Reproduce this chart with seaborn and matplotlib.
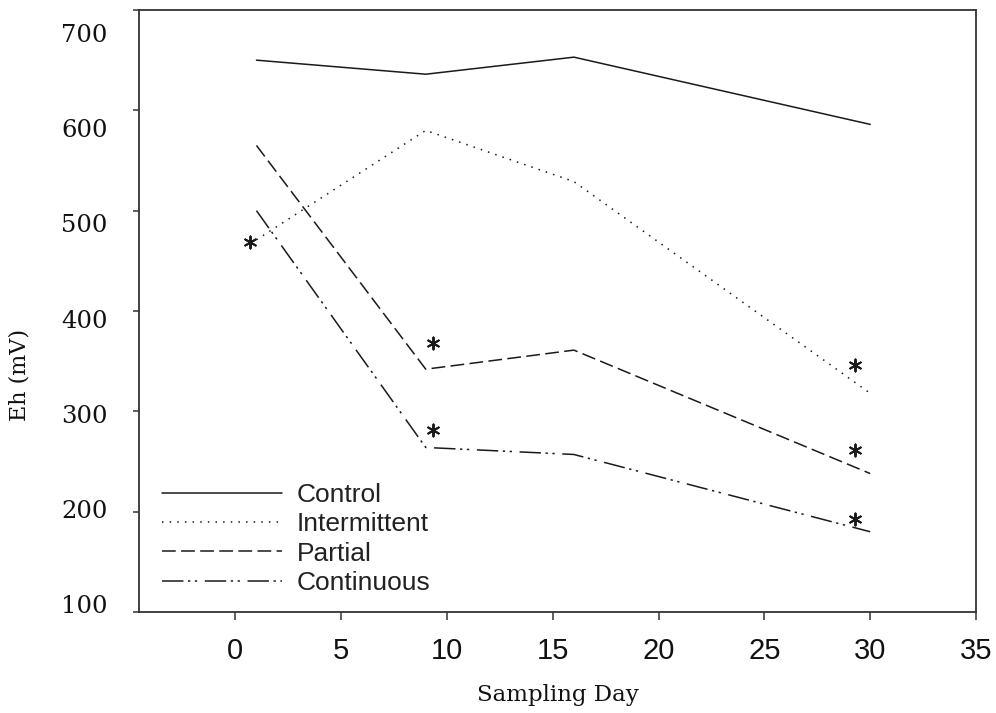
import numpy as np
import pandas as pd
import matplotlib
matplotlib.use("Agg")
import matplotlib.pyplot as plt
import matplotlib.transforms as mtransforms
from matplotlib import font_manager
import seaborn as sns

# ---- data ----
days = [1, 9, 16, 30]
treatments = ["Control", "Intermittent", "Partial", "Continuous"]
control = [650, 636, 653, 586]
intermittent = [471, 580, 529, 318]
partial = [565, 342, 361, 238]
continuous = [500, 264, 257, 180]

# significance markers (day, Eh)
star_days = [0.7, 9.35, 9.35, 29.3, 29.3, 29.3]
star_vals = [469, 368, 281, 346, 261, 193]

x_ticks = [0, 5, 10, 15, 20, 25, 30, 35]
y_ticks = [100, 200, 300, 400, 500, 600, 700]

df = pd.DataFrame({
    "Sampling Day": days * 4,
    "Eh": control + intermittent + partial + continuous,
    "Treatment": [t for t in treatments for _ in days],
})

sns.set_theme(style="white")
plt.rcParams["font.family"] = ["DejaVu Sans"]

names = {f.name for f in font_manager.fontManager.ttflist}
narrow = "Liberation Sans Narrow" if "Liberation Sans Narrow" in names else "Liberation Sans"
xt_size = 24 if narrow == "Liberation Sans Narrow" else 21

fig = plt.figure(figsize=(9.96, 7.13), dpi=100)
ax = fig.add_axes([139 / 996, (713 - 612) / 713, 837 / 996, 602 / 713])

dash_map = {
    "Control": "",
    "Intermittent": (1, 4),
    "Partial": (9, 3.5),
    "Continuous": (14, 3, 1.5, 3, 1.5, 5),
}
sns.lineplot(data=df, x="Sampling Day", y="Eh", style="Treatment",
             style_order=treatments, dashes=dash_map, color="#1a1a1a",
             linewidth=1.1, sort=False, legend=False, ax=ax)

sns.scatterplot(x=star_days, y=star_vals, marker=(6, 2, 0), s=75,
                color="#1a1a1a", linewidth=1.4, ax=ax, legend=False)

ax.set_xlim(-4.55, 35)
ax.set_ylim(103, 699)
ax.set_xticks(x_ticks)
ax.set_yticks(y_ticks)
ax.set_xticklabels([str(v) for v in x_ticks], fontfamily=narrow, fontsize=xt_size)
ax.set_yticklabels([str(v) for v in y_ticks], fontfamily="DejaVu Serif", fontsize=17.5)

for s in ax.spines.values():
    s.set_visible(True)
    s.set_color("#333333")
    s.set_linewidth(1.3)

ax.tick_params(axis="x", direction="out", length=6, width=1.1, color="#333333",
               bottom=True, pad=12, labelcolor="#111111")
ax.tick_params(axis="y", direction="out", length=4.5, width=1.1, color="#333333",
               left=True, pad=18, labelcolor="#111111")

# y tick labels in the original sit on a slightly compressed scale
for tick, v in zip(ax.yaxis.get_major_ticks(), y_ticks):
    dy_px = -8 + 0.052 * (v - 100)
    off = mtransforms.ScaledTranslation(0, -dy_px / 100.0, fig.dpi_scale_trans)
    tick.label1.set_transform(tick.label1.get_transform() + off)

ax.set_xlabel("Sampling Day", fontfamily="DejaVu Serif", fontsize=16.5, va="center",
              color="#111111")
ax.xaxis.set_label_coords(0.5006, (612 - 695) / 602)
ax.set_ylabel("Eh (mV)", fontfamily="DejaVu Serif", fontsize=16, va="center",
              color="#111111")
ax.yaxis.set_label_coords((20 - 139) / 837, (612 - 375) / 602)

handles = ax.lines[:4]
leg = ax.legend(handles, treatments, loc="upper left",
                bbox_to_anchor=((162 - 139) / 837, (612 - 483) / 602),
                frameon=False, borderaxespad=0, borderpad=0,
                handlelength=4.55, handletextpad=0.57, labelspacing=0.2,
                prop={"family": "Liberation Sans", "size": 19})
for t in leg.get_texts():
    t.set_color("#222222")

fig.savefig("out.png", dpi=100, facecolor="white")
